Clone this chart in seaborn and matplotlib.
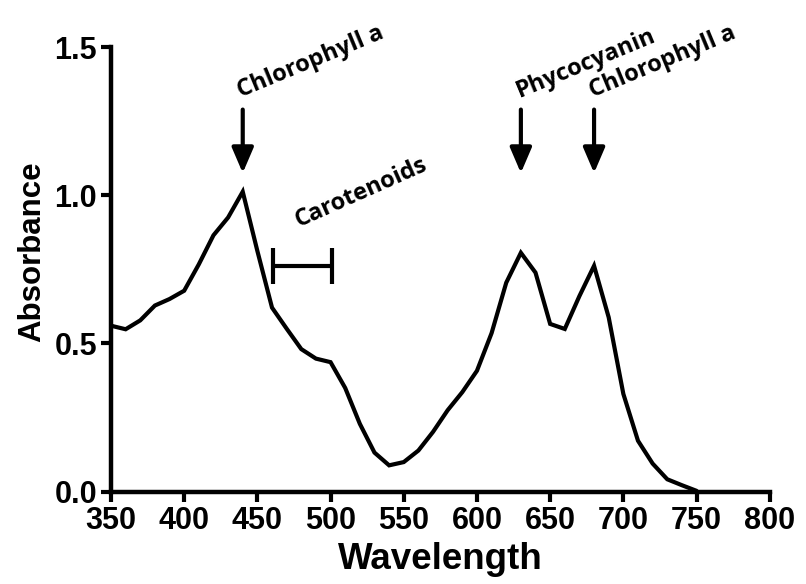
import matplotlib
matplotlib.use("Agg")
import matplotlib.pyplot as plt
import seaborn as sns
import pandas as pd

wavelength = [350, 360, 370, 380, 390, 400, 410, 420, 430, 440, 450, 460, 470, 480,
              490, 500, 510, 520, 530, 540, 550, 560, 570, 580, 590, 600, 610, 620,
              630, 640, 650, 660, 670, 680, 690, 700, 710, 720, 730, 740, 750]
absorbance = [0.56, 0.548, 0.578, 0.628, 0.65, 0.678, 0.767, 0.865, 0.925, 1.012, 0.812,
              0.621, 0.55, 0.481, 0.449, 0.437, 0.35, 0.229, 0.132, 0.089, 0.1, 0.139,
              0.202, 0.275, 0.336, 0.408, 0.535, 0.705, 0.806, 0.739, 0.566, 0.549,
              0.66, 0.762, 0.588, 0.33, 0.172, 0.095, 0.042, 0.022, 0.003]

pigment_labels = ["Chlorophyll a", "Phycocyanin", "Chlorophyll a"]
pigment_wl = [440, 630, 680]
carotenoid_range = [461, 501]
carotenoid_level = 0.763

x_ticks = [350, 400, 450, 500, 550, 600, 650, 700, 750, 800]
y_ticks = [0.0, 0.5, 1.0, 1.5]

df = pd.DataFrame({"Wavelength": wavelength, "Absorbance": absorbance})

sns.set_style("ticks")
plt.rcParams["font.family"] = ["Liberation Sans", "DejaVu Sans"]
plt.rcParams["font.weight"] = "bold"
plt.rcParams["text.color"] = "black"
plt.rcParams["axes.labelcolor"] = "black"
plt.rcParams["xtick.color"] = "black"
plt.rcParams["ytick.color"] = "black"

fig = plt.figure(figsize=(8.06, 5.84), dpi=100)
ax = fig.add_axes([0.1377, 0.158, 0.8173, 0.7615])

sns.lineplot(data=df, x="Wavelength", y="Absorbance", ax=ax, color="black",
             linewidth=3.0, solid_joinstyle="miter")

ax.set_xlim(350, 800)
ax.set_ylim(0, 1.5)
ax.set_xticks(x_ticks)
ax.set_yticks(y_ticks)
ax.set_yticklabels([f"{v:.1f}" for v in y_ticks])
for lab in ax.get_xticklabels() + ax.get_yticklabels():
    lab.set_fontweight("bold")
    lab.set_color("black")
ax.tick_params(axis="both", labelsize=22, width=3, length=7, direction="out",
               color="black", labelcolor="black", pad=3)
ax.set_xlabel("Wavelength", fontsize=26.5, fontweight="bold", color="black")
ax.set_ylabel("Absorbance", fontsize=22.5, fontweight="bold", color="black")
ax.xaxis.set_label_coords(0.5, -0.113)
ax.yaxis.set_label_coords(-0.097, 0.54)
sns.despine(ax=ax)
for s in ["left", "bottom"]:
    ax.spines[s].set_linewidth(3.2)
    ax.spines[s].set_color("black")

ann_font = dict(family=["Open Sans", "DejaVu Sans"], fontweight="bold", fontsize=17,
                color="black")

arrow_top = 1.289
arrow_tip = 1.075
for lab, wl in zip(pigment_labels, pigment_wl):
    ax.annotate("", xy=(wl, arrow_tip), xytext=(wl, arrow_top),
                arrowprops=dict(arrowstyle="-|>,head_length=0.7,head_width=0.3",
                                lw=3, color="black", mutation_scale=22,
                                shrinkA=0, shrinkB=0))
    ax.text(wl + 0.5, 1.31, lab, rotation=22.5, rotation_mode="anchor",
            ha="left", va="bottom", **ann_font)

ax.errorbar([(carotenoid_range[0] + carotenoid_range[1]) / 2], [carotenoid_level],
            xerr=[(carotenoid_range[1] - carotenoid_range[0]) / 2],
            fmt="none", ecolor="black", elinewidth=3, capsize=13, capthick=3)
ax.text(480, 0.875, "Carotenoids", rotation=24, rotation_mode="anchor",
        ha="left", va="bottom", **ann_font)

fig.savefig("out.png", dpi=100)
